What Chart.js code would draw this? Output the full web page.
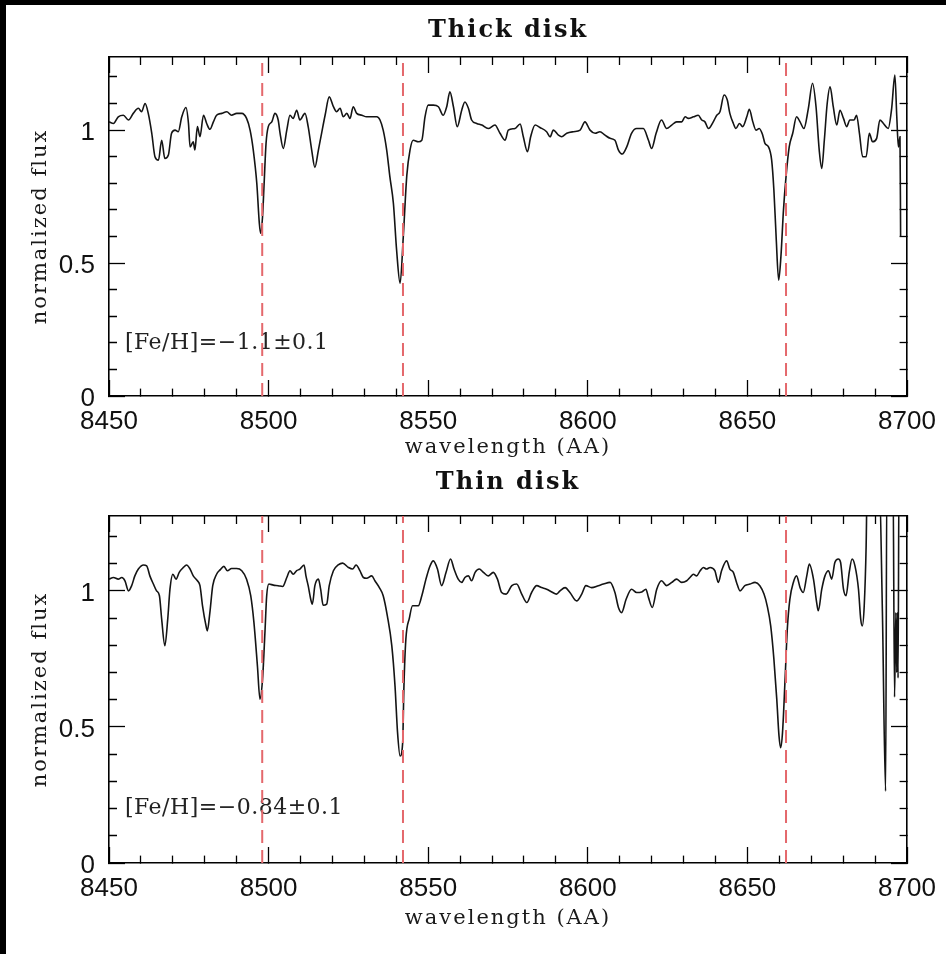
<!DOCTYPE html>
<html>
<head>
<meta charset="utf-8">
<script src="https://cdn.jsdelivr.net/npm/chart.js@4.4.1/dist/chart.umd.min.js"></script>
<style>
  html, body { margin:0; padding:0; background:#fff; }
  body { width:946px; height:954px; position:relative; overflow:hidden; }
  canvas { position:absolute; left:0; }
  #c1 { top:0; }
  #c2 { top:462px; }
  .edge { position:absolute; background:#000; }
</style>
</head>
<body>
<canvas id="c1" width="946" height="462"></canvas>
<canvas id="c2" width="946" height="492"></canvas>
<div class="edge" style="left:0;top:0;width:946px;height:5px"></div>
<div class="edge" style="left:0;top:0;width:6px;height:954px"></div>
<script>
// axis ranges, Ca II triplet and labelled ticks
var xMin = 8450, xMax = 8700;
var yMin = 0, yMax = 1.275;
var caLines = [8498.0, 8542.1, 8662.1];
var xLabelTicks = [8450, 8500, 8550, 8600, 8650, 8700];
var yLabelTicks = [0, 0.5, 1];

// thick disk spectrum
var thickWave = [8450.0,8451.4,8452.9,8454.5,8456.1,8457.6,8459.2,8460.2,8461.3,8462.3,8463.4,8464.4,8465.5,8466.5,8467.5,8468.6,8469.6,8470.7,8471.7,8472.8,
  8474.1,8474.9,8475.4,8476.4,8476.9,8477.7,8478.5,8479.6,8480.6,8481.6,8482.7,8483.7,8485.3,8486.9,8488.4,8490.0,8491.6,8493.1,8494.2,8495.2,
  8496.3,8497.1,8497.5,8498.1,8498.6,8499.2,8499.9,8501.0,8502.0,8503.0,8503.6,8504.6,8505.7,8506.7,8507.7,8508.8,8509.8,8511.4,8512.4,8513.5,
  8514.5,8515.6,8516.6,8517.7,8519.0,8520.3,8521.3,8522.4,8523.4,8524.5,8525.5,8526.5,8527.6,8529.2,8530.7,8532.3,8533.9,8534.9,8535.9,8537.0,
  8538.0,8539.1,8540.1,8541.2,8542.2,8543.3,8544.3,8545.3,8546.9,8548.0,8549.0,8550.0,8551.6,8553.2,8554.7,8555.8,8556.8,8557.9,8559.1,8560.5,
  8561.5,8562.6,8563.6,8565.2,8566.8,8568.8,8570.9,8572.5,8574.1,8575.1,8577.2,8578.8,8579.8,8581.1,8582.1,8583.5,8585.0,8587.1,8588.2,8589.2,
  8590.8,8591.8,8593.4,8595.5,8597.6,8599.1,8600.7,8602.3,8603.8,8605.4,8607.0,8608.5,8609.6,8610.8,8612.2,8613.7,8615.3,8617.4,8619.0,8620.0,
  8621.4,8623.1,8624.7,8626.3,8627.8,8629.4,8630.5,8631.5,8633.1,8634.6,8635.7,8636.7,8637.8,8639.3,8640.4,8641.4,8642.7,8643.7,8644.5,8645.6,
  8646.4,8647.5,8648.5,8649.8,8650.6,8651.7,8652.7,8653.7,8654.8,8655.5,8656.6,8657.6,8658.3,8659.0,8659.8,8660.5,8661.3,8662.1,8663.1,8664.2,
  8665.4,8666.5,8667.7,8669.1,8670.4,8671.5,8672.5,8673.3,8674.1,8675.0,8675.9,8676.9,8678.0,8679.0,8680.1,8681.1,8682.1,8683.4,8684.2,8685.1,
  8686.1,8687.2,8688.2,8689.2,8690.5,8691.5,8692.6,8694.1,8695.2,8696.2,8696.8,8697.3,8697.8,8698.0];
var thickFlux = [1.031,1.025,1.050,1.056,1.038,1.063,1.082,1.069,1.100,1.063,0.988,0.900,0.887,0.962,0.893,0.906,0.988,1.000,0.994,1.050,
  1.085,1.025,0.937,0.956,0.925,1.013,0.975,1.056,1.025,1.003,1.031,1.056,1.063,1.069,1.056,1.063,1.063,1.044,1.000,0.925,
  0.800,0.649,0.612,0.674,0.800,0.950,1.013,1.031,1.063,1.038,0.988,0.931,1.000,1.056,1.044,1.075,1.038,1.063,1.013,0.925,
  0.860,0.925,0.988,1.056,1.125,1.088,1.069,1.082,1.050,1.063,1.044,1.088,1.063,1.056,1.050,1.050,1.050,1.038,1.000,0.925,
  0.824,0.724,0.549,0.424,0.600,0.830,0.925,0.962,0.956,0.962,1.050,1.094,1.094,1.088,1.056,1.088,1.144,1.088,1.013,1.075,
  1.106,1.082,1.038,1.025,1.019,1.006,1.019,0.988,0.962,1.000,1.006,1.023,0.975,0.919,0.975,1.019,1.010,0.994,0.975,1.000,
  0.981,0.975,0.988,0.994,1.000,1.031,1.000,0.988,0.994,0.981,0.969,0.962,0.925,0.910,0.937,0.988,1.006,1.006,0.962,0.931,
  0.988,1.038,1.006,1.019,1.031,1.031,1.050,1.044,1.050,1.056,1.038,1.031,1.006,1.031,1.056,1.069,1.132,1.113,1.063,1.025,
  1.006,1.025,1.013,1.050,1.078,1.031,1.000,1.006,0.981,0.950,0.937,0.887,0.774,0.599,0.436,0.524,0.699,0.824,0.937,0.988,
  1.050,1.031,1.006,1.082,1.176,1.088,0.925,0.856,0.962,1.100,1.163,1.088,1.019,1.075,1.044,1.013,1.038,1.038,1.056,0.988,
  0.900,0.900,0.988,0.956,0.969,1.038,1.025,1.006,1.082,1.207,1.050,0.937,0.975,0.600];

// thin disk spectrum
var thinWave = [8450.0,8451.4,8452.9,8454.0,8455.0,8456.1,8457.1,8458.1,8459.2,8460.8,8461.8,8462.8,8463.9,8464.9,8465.8,8466.5,8467.5,8468.4,8469.1,8470.0,
  8471.0,8472.0,8473.3,8474.3,8475.4,8476.4,8477.7,8478.5,8479.3,8480.4,8480.8,8481.6,8482.5,8483.7,8484.8,8486.0,8487.1,8488.4,8490.0,8491.6,
  8493.1,8494.4,8495.4,8496.5,8497.3,8498.1,8498.9,8499.4,8500.1,8501.5,8503.0,8504.4,8505.7,8506.7,8507.7,8508.8,8509.8,8511.1,8511.7,8512.4,
  8513.2,8513.7,8514.5,8515.6,8516.3,8517.1,8518.2,8519.0,8520.3,8521.8,8523.2,8525.0,8526.3,8527.4,8528.6,8529.7,8530.7,8532.3,8533.3,8534.7,
  8535.9,8537.2,8538.6,8539.6,8540.4,8541.2,8542.0,8542.4,8543.0,8544.1,8545.1,8546.9,8548.0,8549.3,8550.6,8551.6,8552.9,8554.2,8555.6,8557.0,
  8558.1,8559.4,8560.5,8561.5,8562.6,8563.6,8564.7,8566.0,8567.3,8568.8,8570.4,8571.7,8573.0,8574.4,8576.2,8577.7,8579.3,8580.9,8582.4,8584.0,
  8585.5,8587.1,8588.7,8590.2,8591.3,8592.9,8594.4,8596.5,8598.1,8599.4,8601.2,8603.3,8604.9,8607.0,8608.5,8609.6,8610.6,8612.0,8613.7,8615.3,
  8616.9,8618.2,8619.0,8620.2,8621.6,8623.1,8624.7,8626.3,8627.8,8629.4,8631.0,8632.0,8633.1,8634.1,8635.2,8636.2,8637.2,8638.3,8639.8,8640.9,
  8641.9,8643.5,8644.5,8645.6,8646.6,8647.7,8649.2,8650.8,8652.4,8653.9,8655.2,8656.2,8657.3,8658.3,8659.2,8659.9,8660.4,8661.0,8661.8,8662.5,
  8663.3,8664.4,8665.4,8666.5,8667.5,8668.6,8669.4,8670.7,8671.7,8672.2,8673.3,8674.3,8675.4,8676.4,8677.4,8678.5,8679.2,8680.1,8680.9,8681.9,
  8682.8,8683.7,8684.8,8685.5,8686.0,8686.6,8687.2,8687.6,8691.2,8692.3,8693.3,8693.7,8695.6,8696.1,8696.5,8696.8,8697.0,8697.2,8697.5,8700.0];
var thinFlux = [1.043,1.049,1.043,1.049,1.037,1.000,1.019,1.055,1.080,1.095,1.092,1.055,1.025,1.000,0.982,0.896,0.798,0.896,1.006,1.061,
  1.043,1.068,1.086,1.095,1.080,1.055,1.037,1.019,0.945,0.871,0.853,0.920,1.019,1.061,1.077,1.090,1.074,1.082,1.082,1.074,
  1.043,0.982,0.884,0.724,0.602,0.675,0.859,0.982,1.025,1.021,1.019,1.016,1.049,1.074,1.061,1.074,1.080,1.095,1.055,1.019,
  0.969,0.951,1.019,1.043,1.006,0.947,0.951,1.019,1.074,1.095,1.102,1.086,1.080,1.095,1.074,1.049,1.046,1.055,1.037,1.012,
  0.982,0.908,0.798,0.651,0.479,0.393,0.442,0.650,0.822,0.900,0.945,0.945,0.982,1.043,1.092,1.110,1.080,1.019,1.068,1.117,
  1.080,1.043,1.031,1.049,1.055,1.037,1.068,1.080,1.068,1.055,1.068,1.043,0.994,0.988,1.019,1.025,0.988,0.957,0.994,1.019,
  1.012,1.006,0.996,0.988,1.000,1.012,0.994,0.963,0.988,1.019,1.012,1.019,1.025,1.031,0.994,0.939,0.920,0.969,1.006,0.994,
  0.996,1.006,0.976,0.939,1.006,1.037,1.019,1.031,1.043,1.031,1.037,1.049,1.061,1.055,1.074,1.086,1.080,1.086,1.074,1.031,
  1.074,1.110,1.080,1.068,1.031,1.000,1.019,1.025,1.031,1.019,0.988,0.945,0.871,0.749,0.602,0.467,0.424,0.479,0.675,0.859,
  0.969,1.031,1.055,1.012,0.994,1.055,1.098,1.043,0.957,0.927,1.006,1.055,1.074,1.043,1.104,1.117,1.104,1.006,0.982,1.068,
  1.117,1.092,1.006,0.896,0.871,0.945,1.166,1.450,1.450,0.920,0.264,1.450,1.450,0.610,0.920,0.700,0.920,0.680,1.450,1.450];

var thickFeH = '[Fe/H]=\u22121.1\u00b10.1';
var thinFeH = '[Fe/H]=\u22120.84\u00b10.1';
var fehAt = [8455, 0.2];

var tickFont = {family: 'Liberation Sans', size: 26, lineHeight: 1.2};
var serifFont = {family: 'DejaVu Serif', size: 21, lineHeight: 1.2};

function isMajorX(v) { return v % 50 === 0; }
function isMajorY(v) { return Math.abs(v * 2 - Math.round(v * 2)) < 1e-6; }

// inward ticks: long for major, short (dashed away) for minor
function grid(pos, isMajor) {
  return {
    drawOnChartArea: false,
    drawTicks: true,
    tickLength: -16,
    tickWidth: 1.3,
    tickColor: '#000',
    tickBorderDash: function(c) {
      if (isMajor(c.tick.value)) return [];
      return (pos === 'bottom' || pos === 'right') ? [8, 40] : [0, 8, 8, 40];
    }
  };
}
var border = {display: true, color: '#000', width: 1.6};

// fix axis sizes so the plot box lands where the reference has it
function fixSize(prop, val) {
  return function(s) {
    s[prop] = val;
    s.paddingLeft = s.paddingRight = s.paddingTop = s.paddingBottom = 0;
  };
}

function makeChart(id, title, wave, flux, feh, d) {
  var spectrum = wave.map(function(w, i) { return {x: w, y: flux[i]}; });
  var sets = caLines.map(function(l) {
    return {
      data: [{x: l, y: yMin}, {x: l, y: yMax}],
      showLine: true, borderColor: '#e4686c', borderWidth: 2,
      borderDash: [13, 7], pointRadius: 0
    };
  });
  sets.push({
    data: spectrum, showLine: true, borderColor: '#141414', borderWidth: 1.6,
    pointRadius: 0, cubicInterpolationMode: 'monotone'
  });

  return new Chart(document.getElementById(id), {
    type: 'scatter',
    data: {datasets: sets},
    options: {
      responsive: false,
      animation: false,
      layout: {padding: {left: 0, right: 39, top: 0, bottom: 0}},
      plugins: {
        legend: {display: false},
        tooltip: {enabled: false},
        title: {
          display: true, text: title, fullSize: false, color: '#111',
          font: {family: 'DejaVu Serif', size: 24, weight: 'bold', lineHeight: 1.2},
          padding: {top: d.tpt, bottom: d.tpb}
        }
      },
      scales: {
        x: {
          type: 'linear', position: 'bottom', min: xMin, max: xMax, bounds: 'data',
          afterFit: fixSize('height', d.xh),
          title: {display: true, text: 'wavelength (AA)', color: '#1a1a1a', font: serifFont, padding: {top: 0, bottom: d.xtb}},
          grid: grid('bottom', isMajorX), border: border,
          ticks: {
            stepSize: 10, includeBounds: false, autoSkip: false, maxRotation: 0, padding: 26, z: 1,
            color: '#111', font: tickFont,
            callback: function(v) { return xLabelTicks.indexOf(v) >= 0 ? String(v) : ''; }
          }
        },
        x2: {
          type: 'linear', position: 'top', min: xMin, max: xMax, bounds: 'data',
          afterFit: fixSize('height', 0),
          grid: grid('top', isMajorX), border: border,
          ticks: {stepSize: 10, includeBounds: false, autoSkip: false, callback: function() { return ''; }}
        },
        y: {
          type: 'linear', position: 'left', min: yMin, max: yMax, bounds: 'data',
          afterFit: fixSize('width', 109),
          title: {display: true, text: 'normalized flux', color: '#1a1a1a', font: serifFont, padding: {top: 28.4, bottom: 0}},
          grid: grid('left', isMajorY), border: border,
          ticks: {
            stepSize: 0.1, includeBounds: false, autoSkip: false, padding: 30, labelOffset: 3, z: 1,
            color: '#111', font: tickFont,
            callback: function(v) {
              var hit = yLabelTicks.filter(function(t) { return Math.abs(t - v) < 1e-6; });
              return hit.length ? String(hit[0]) : '';
            }
          }
        },
        y2: {
          type: 'linear', position: 'right', min: yMin, max: yMax, bounds: 'data',
          afterFit: fixSize('width', 0),
          grid: grid('right', isMajorY), border: border,
          ticks: {stepSize: 0.1, includeBounds: false, autoSkip: false, callback: function() { return ''; }}
        }
      }
    },
    plugins: [{
      id: 'spacing',
      beforeDraw: function(c) { c.ctx.letterSpacing = '2px'; },
      beforeDatasetsDraw: function(c) {
        var ctx = c.ctx;
        ctx.save();
        ctx.letterSpacing = '0.5px';
        ctx.font = '22px "DejaVu Serif"';
        ctx.fillStyle = '#222';
        ctx.textAlign = 'left';
        ctx.textBaseline = 'middle';
        ctx.fillText(feh, c.scales.x.getPixelForValue(fehAt[0]), c.scales.y.getPixelForValue(fehAt[1]));
        ctx.restore();
      },
      afterDatasetsDraw: function(c) { c.ctx.letterSpacing = '0px'; }
    }]
  });
}

makeChart('c1', 'Thick disk', thickWave, thickFlux, thickFeH, {tpt: 16, tpb: 12.2, xh: 66, xtb: 1.6});
makeChart('c2', 'Thin disk', thinWave, thinFlux, thinFeH, {tpt: 6.2, tpb: 19, xh: 91, xtb: 22.6});
</script>
</body>
</html>
